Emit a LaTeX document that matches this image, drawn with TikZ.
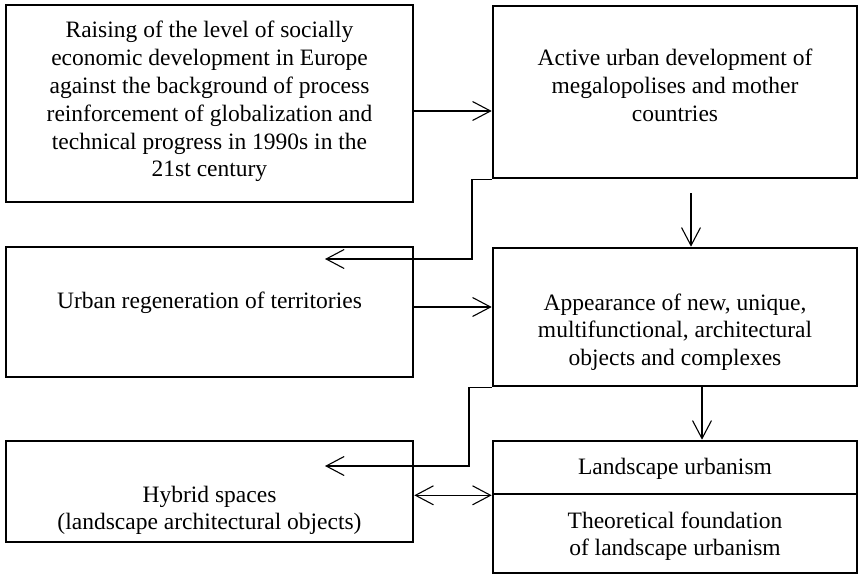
\documentclass[tikz,border=0pt]{standalone}
\usepackage{fontspec}
\setmainfont{Liberation Serif}
\usetikzlibrary{arrows.meta}
\newcommand{\mlines}[1]{\begin{tabular}[t]{@{}c@{}}#1\end{tabular}}
\begin{document}
\begin{tikzpicture}[x=1pt,y=-1pt,
  box/.style={draw, line width=2.6pt, inner sep=0pt, rectangle},
  txt/.style={inner sep=0pt, anchor=base, font=\fontsize{23.5}{27.8}\selectfont},
  conn/.style={line width=1.1pt, -{Straight Barb[length=18pt,width=19pt,line width=1.1pt]}},
  conn2/.style={line width=1.1pt, {Straight Barb[length=18pt,width=19pt,line width=1.1pt]}-{Straight Barb[length=18pt,width=19pt,line width=1.1pt]}}]
\useasboundingbox (0,0) rectangle (859,575);
% boxes
\node[box, minimum width=407pt, minimum height=197pt] (A) at (209.5,103.5) {};
\node[box, minimum width=364pt, minimum height=172pt] (B) at (675,92) {};
\node[box, minimum width=407pt, minimum height=130pt] (C) at (209.5,312) {};
\node[box, minimum width=364pt, minimum height=138pt] (D) at (675,317) {};
\node[box, minimum width=407pt, minimum height=101pt] (E) at (209.5,491.5) {};
\node[box, minimum width=364pt, minimum height=53pt] (F) at (675,467.5) {};
\node[box, minimum width=364pt, minimum height=79pt] (G) at (675,533.5) {};
% texts
\node[txt] (tA) at (209.5,38) {\mlines{Raising of the level of socially\\economic development in Europe\\against the background of process\\reinforcement of globalization and\\technical progress in 1990s in the\\21st century}};
\node[txt] (tB) at (675,65.5) {\mlines{Active urban development of\\megalopolises and mother\\countries}};
\node[txt] (tC) at (209.5,308) {Urban regeneration of territories};
\node[txt] (tD) at (675,310) {\mlines{Appearance of new, unique,\\multifunctional, architectural\\objects and complexes}};
\node[txt] (tE) at (209.5,502) {\mlines{Hybrid spaces\\(landscape architectural objects)}};
\node[txt] (tF) at (675,474) {Landscape urbanism};
\node[txt] (tG) at (675,528) {\mlines{Theoretical foundation\\of landscape urbanism}};
% helper coordinates
\coordinate (yAB) at (0,111);
\coordinate (yCD) at (0,307);
\coordinate (tipC) at (325,259);
\coordinate (xBC) at (472,0);
\coordinate (tipE) at (325,466);
\coordinate (xDE) at (469,0);
\coordinate (bdStart) at (691,193);
\coordinate (xDF) at (702,0);
% connectors
\draw[conn] (A.east |- yAB) -- (B.west |- yAB);
\draw[conn] (B.south west) -| (xBC |- tipC) -- (tipC);
\draw[conn] (bdStart) -- (bdStart |- D.north);
\draw[conn] (C.east |- yCD) -- (D.west |- yCD);
\draw[conn] (D.south west) -| (xDE |- tipE) -- (tipE);
\draw[conn] (xDF |- D.south) -- (xDF |- F.north);
\draw[conn2] (E.east |- F.south) -- (F.south west);
\end{tikzpicture}
\end{document}
